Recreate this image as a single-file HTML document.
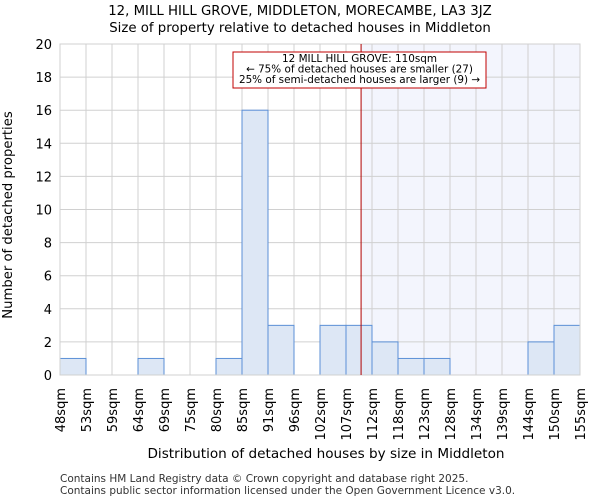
<!DOCTYPE html>
<html><head><meta charset="utf-8"><style>
body{margin:0;background:#fff;font-family:"DejaVu Sans","Liberation Sans",sans-serif}
</style></head><body>
<svg id="c" width="600" height="500" xmlns="http://www.w3.org/2000/svg" font-family="DejaVu Sans, Liberation Sans, sans-serif">
<text x="300" y="15" text-anchor="middle" font-size="13.3">12, MILL HILL GROVE, MIDDLETON, MORECAMBE, LA3 3JZ</text>
<text x="300" y="32" text-anchor="middle" font-size="13.3">Size of property relative to detached houses in Middleton</text>
<g id="plot"></g>
<text x="326" y="458" text-anchor="middle" font-size="13.6">Distribution of detached houses by size in Middleton</text>
<text transform="translate(12,215) rotate(-90)" text-anchor="middle" font-size="13.2">Number of detached properties</text>
<text x="60" y="482" font-size="10.5" fill="#333">Contains HM Land Registry data © Crown copyright and database right 2025.</text>
<text x="60" y="494" font-size="10.5" fill="#333">Contains public sector information licensed under the Open Government Licence v3.0.</text>
</svg>
<script>
const binLabels=["48sqm","53sqm","59sqm","64sqm","69sqm","75sqm","80sqm","85sqm","91sqm","96sqm","102sqm","107sqm","112sqm","118sqm","123sqm","128sqm","134sqm","139sqm","144sqm","150sqm","155sqm"];
const counts=[1,0,0,1,0,0,1,16,3,0,3,3,2,1,1,0,0,0,2,3];
const yTicks=[0,2,4,6,8,10,12,14,16,18,20];
const markerBin=11.58;
const L=60,R=580,T=44,B=375,YMAX=20;
const NS="http://www.w3.org/2000/svg";
const g=document.getElementById('plot');
const bw=(R-L)/counts.length;
const x=i=>L+i*bw, y=v=>B-(v/YMAX)*(B-T);
function mk(t,a){const e=document.createElementNS(NS,t);for(const k in a)e.setAttribute(k,a[k]);g.appendChild(e);return e;}
const mx=x(markerBin);
const sh=mk('rect',{x:mx,y:T,width:R-mx,height:B-T,fill:'#f3f5fd'});


for(const t of yTicks){const l=mk('line',{x1:L,x2:R,y1:y(t),y2:y(t),stroke:'#d0d0d0'});


const tx=mk('text',{x:L-8,y:y(t)+5,'text-anchor':'end','font-size':13});tx.textContent=t;

}
for(let i=0;i<binLabels.length;i++){const l=mk('line',{x1:x(i),x2:x(i),y1:T,y2:B,stroke:'#d0d0d0'});


const tx=mk('text',{transform:`translate(${x(i)+5},388) rotate(-90)`,'text-anchor':'end','font-size':13});tx.textContent=binLabels[i];

}
counts.forEach((c,i)=>{if(!c)return;const r=mk('rect',{x:x(i),y:y(c),width:bw,height:B-y(c),fill:'#dde7f5',stroke:'#5b8fd6','stroke-width':1});

});
const ax=mk('rect',{x:L,y:T,width:R-L,height:B-T,fill:'none',stroke:'#d0d0d0'});


const ml=mk('line',{x1:mx,x2:mx,y1:T,y2:B,stroke:'#b00000','stroke-width':1});


const bx=mk('rect',{x:233,y:52,width:253,height:36,fill:'#fff',stroke:'#c00000','stroke-width':1});


["12 MILL HILL GROVE: 110sqm","← 75% of detached houses are smaller (27)","25% of semi-detached houses are larger (9) →"].forEach((s,k)=>{
const t=mk('text',{x:359.5,y:62+k*10.5,'text-anchor':'middle','font-size':10.4});t.textContent=s;

});
</script>
</body></html>
